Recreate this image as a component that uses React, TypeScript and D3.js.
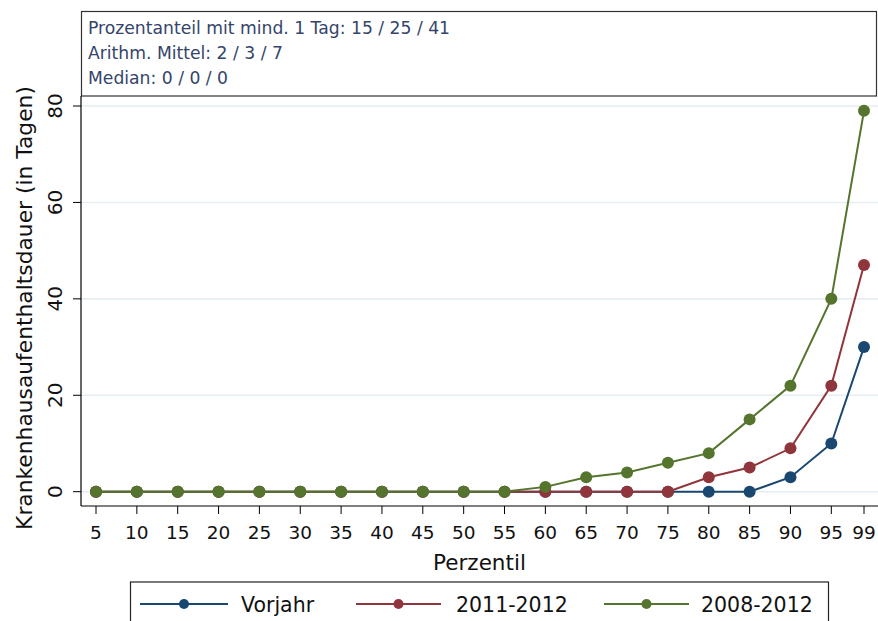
import React from "react";
import * as d3 from "d3";

const percentiles = [5, 10, 15, 20, 25, 30, 35, 40, 45, 50, 55, 60, 65, 70, 75, 80, 85, 90, 95, 99];
const vorjahr =    [0, 0, 0, 0, 0, 0, 0, 0, 0, 0, 0, 0, 0, 0, 0, 0, 0, 3, 10, 30];
const y2011_2012 = [0, 0, 0, 0, 0, 0, 0, 0, 0, 0, 0, 0, 0, 0, 0, 3, 5, 9, 22, 47];
const y2008_2012 = [0, 0, 0, 0, 0, 0, 0, 0, 0, 0, 0, 1, 3, 4, 6, 8, 15, 22, 40, 79];
const seriesNames = ["Vorjahr", "2011-2012", "2008-2012"];
const seriesColors = ["#1a476f", "#90353b", "#55752f"];
const yTicks = [0, 20, 40, 60, 80];
const infoLines = [
  "Prozentanteil mit mind. 1 Tag: 15 / 25 / 41",
  "Arithm. Mittel: 2 / 3 / 7",
  "Median: 0 / 0 / 0",
];
const yTitle = "Krankenhausaufenthaltsdauer (in Tagen)";
const xTitle = "Perzentil";

const W = 878;
const H = 621;
const FONT = "'DejaVu Sans', sans-serif";

export default function App() {
  const plotLeft = 81;
  const plotRight = 878;
  const plotTop = 96;
  const plotBottom = 506;
  const x = d3.scaleLinear().domain([5, 99]).range([96, 864]);
  const y = d3.scaleLinear().domain([0, 80]).range([491.7, 106]);
  const allSeries = [vorjahr, y2011_2012, y2008_2012];
  const line = d3
    .line<number>()
    .x((_, i) => x(percentiles[i]))
    .y((d) => y(d));

  const legendItems = [
    { lineX0: 140, lineX1: 228, textX: 241 },
    { lineX0: 356, lineX1: 441, textX: 456 },
    { lineX0: 604, lineX1: 689, textX: 701 },
  ];
  const legendY = 604;

  return (
    <svg
      width={W}
      height={H}
      style={{ position: "absolute", left: 0, top: 0, background: "#fff" }}
      fontFamily={FONT}
    >
      <rect x={0} y={0} width={W} height={H} fill="#fff" />
      {yTicks.map((t) => (
        <line
          key={"g" + t}
          x1={plotLeft}
          x2={plotRight}
          y1={y(t)}
          y2={y(t)}
          stroke="#e6eef1"
          strokeWidth={1.6}
        />
      ))}
      <rect x={81.5} y={11.5} width={795} height={84.5} fill="#fff" stroke="#333" strokeWidth={1.2} />
      {infoLines.map((s, i) => (
        <text key={s} x={88} y={34 + i * 25} fontSize={17.2} fill="#35446a">
          {s}
        </text>
      ))}
      <line x1={plotLeft} x2={plotLeft} y1={plotTop} y2={plotBottom} stroke="#000" strokeWidth={1.2} />
      <line x1={plotLeft} x2={plotRight} y1={plotBottom} y2={plotBottom} stroke="#000" strokeWidth={1.2} />
      {yTicks.map((t) => (
        <g key={"yt" + t}>
          <line x1={73} x2={plotLeft} y1={y(t)} y2={y(t)} stroke="#000" strokeWidth={1} />
          <text
            transform={`translate(${62},${y(t)}) rotate(-90)`}
            textAnchor="middle"
            fontSize={20}
            fill="#111"
          >
            {t}
          </text>
        </g>
      ))}
      {percentiles.map((p) => (
        <g key={"xt" + p}>
          <line x1={x(p)} x2={x(p)} y1={plotBottom} y2={plotBottom + 8} stroke="#000" strokeWidth={1} />
          <text x={x(p)} y={539} textAnchor="middle" fontSize={18.5} fill="#111">
            {p}
          </text>
        </g>
      ))}
      <text x={(plotLeft + plotRight) / 2} y={570} textAnchor="middle" fontSize={21.5} fill="#111">
        {xTitle}
      </text>
      <text
        transform={`translate(${32},${308}) rotate(-90)`}
        textAnchor="middle"
        fontSize={21.8}
        fill="#111"
      >
        {yTitle}
      </text>
      {allSeries.map((vals, si) => (
        <g key={"s" + si}>
          <path d={line(vals) || ""} fill="none" stroke={seriesColors[si]} strokeWidth={2} />
          {vals.map((v, i) => (
            <circle key={i} cx={x(percentiles[i])} cy={y(v)} r={6} fill={seriesColors[si]} />
          ))}
        </g>
      ))}
      <rect x={130.5} y={582} width={698} height={60} fill="#fff" stroke="#222" strokeWidth={1.2} />
      {legendItems.map((it, i) => (
        <g key={"l" + i}>
          <line x1={it.lineX0} x2={it.lineX1} y1={legendY} y2={legendY} stroke={seriesColors[i]} strokeWidth={2} />
          <circle cx={(it.lineX0 + it.lineX1) / 2} cy={legendY} r={5} fill={seriesColors[i]} />
          <text x={it.textX} y={legendY + 7.5} fontSize={20.5} fill="#111">
            {seriesNames[i]}
          </text>
        </g>
      ))}
    </svg>
  );
}
